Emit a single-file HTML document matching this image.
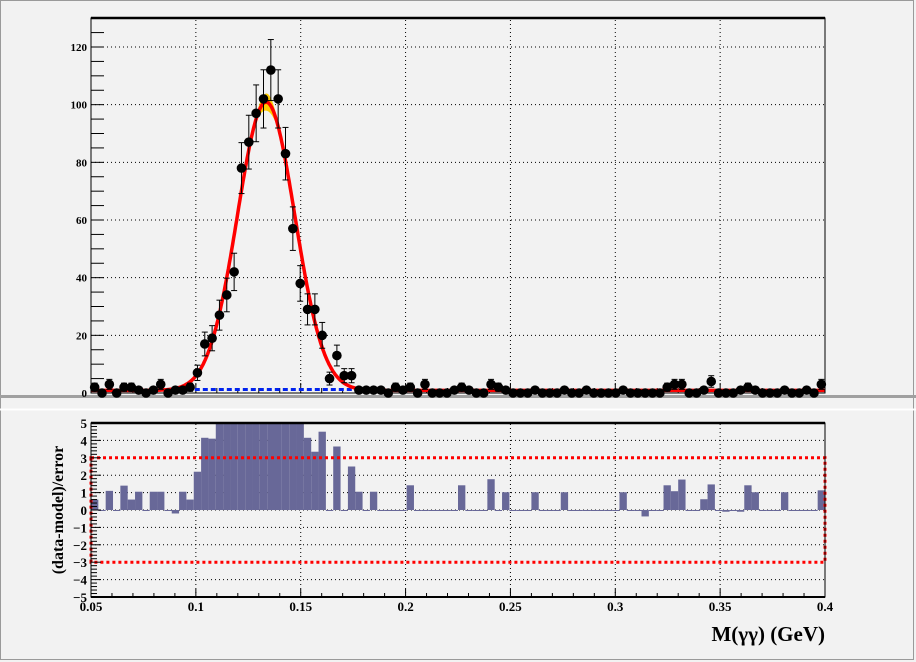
<!DOCTYPE html>
<html><head><meta charset="utf-8">
<style>
html,body{margin:0;padding:0;background:#f2f2f2;}
svg{display:block;font-family:"Liberation Serif",serif;font-weight:bold;}
</style></head>
<body>
<svg id="c" width="916" height="662" viewBox="0 0 916 662">
<rect x="0" y="0" width="916" height="662" fill="#f2f2f2"/>
<rect x="0.5" y="0.5" width="913" height="659" fill="none" stroke="#9a9a9a"/>
<rect x="0" y="395" width="916" height="3" fill="#a0a0a0"/>
<line x1="0" y1="409.5" x2="916" y2="409.5" stroke="#ffffff" stroke-width="2"/>
<g id="topPanel"></g>
<g id="botPanel"></g>
<text x="825" y="641" text-anchor="end" style="font-size:21px">M(γγ) (GeV)</text>
<text transform="translate(63,510) rotate(-90)" text-anchor="middle" style="font-size:16px">(data-model)/error</text>
</svg>
<script>
const counts=[2,0,3,0,2,2,1,0,1,3,0,1,1,2,7,17,19,27,34,42,78,87,97,102,112,102,83,57,38,29,29,20,5,13,6,6,1,1,1,1,0,2,1,2,0,3,0,0,0,1,2,1,0,0,3,2,1,0,0,0,1,0,0,0,1,0,0,1,0,0,0,0,1,0,0,0,0,0,2,3,3,0,0,1,4,0,0,0,1,2,1,0,0,0,1,0,0,1,0,3];
const pulls=[0.6,0,1.1,0,1.4,0.6,1.05,0,1.05,1.05,0,-0.2,1.05,0.6,2.2,4.15,4.1,6,7,8,9,8,7,7,8,6,6,6,7,4.15,3.35,4.5,0,3.65,0,2.5,1.05,0,1.05,0,0,0,0,1.42,0,0,0,0,0,0,1.42,0,0,0,1.77,0,1.02,0,0,0,1.02,0,0,0,1.02,0,0,0,0,0,0,0,1.02,0,0,-0.37,0,0,1.42,1.08,1.75,0,0,0.62,1.47,0,-0.1,0,-0.1,1.42,1.02,0,0,0,1.02,0,0,0,0,1.13];
const fitParams=[100,0.1335,0.0137,0.9];
const xTicks=[0.05,0.1,0.15,0.2,0.25,0.3,0.35,0.4];
const xTickLabels=["0.05","0.1","0.15","0.2","0.25","0.3","0.35","0.4"];
const yTicksTop=[0,20,40,60,80,100,120];
const yTicksBot=[-5,-4,-3,-2,-1,0,1,2,3,4,5];
const xMin=0.05,xMax=0.4,nBins=100;
const L=91,R=825;
const X=v=>L+(v-xMin)/(xMax-xMin)*(R-L);
const T0=393,T1=18,YT=v=>T0-v*(346/120);
const B0=597,B1=423,YB=v=>B0-(v+5)/10*(B0-B1);
const NS='http://www.w3.org/2000/svg';
function mk(p,tag,a){const e=document.createElementNS(NS,tag);for(const k in a)e.setAttribute(k,a[k]);p.appendChild(e);return e;}
function model(x){const [A,m,s,b]=fitParams;return A*Math.exp(-0.5*((x-m)/s)**2)+b;}
const tp=document.getElementById('topPanel'),bp=document.getElementById('botPanel');
function grid(g,y0,y1,yv,Y){
 xTicks.slice(1,-1).forEach(v=>{const l=mk(g,'line',{x1:X(v),x2:X(v),y1:y0,y2:y1,stroke:'#000','stroke-width':1,'stroke-dasharray':'1,3'});
 
 });
 yv.forEach(v=>{const y=Y(v);if(Math.abs(y-y0)<2||Math.abs(y-y1)<2)return;const l=mk(g,'line',{x1:L,x2:R,y1:y,y2:y,stroke:'#000','stroke-width':1,'stroke-dasharray':'1,3'});
 
 });
}
grid(tp,T0,T1,yTicksTop,YT);
grid(bp,B0,B1,yTicksBot.filter(v=>v!==3&&v!==-3),YB);
for(let v=0;v<=130;v+=5){const y=YT(v);if(y<T1)break;mk(tp,'line',{x1:L,x2:L+13,y1:y,y2:y,stroke:'#000'});}
yTicksTop.forEach(v=>{const t=mk(tp,'text',{x:87,y:YT(v)+4,'text-anchor':'end',style:'font-size:11px'});t.textContent=v;
 
 });
for(let k=0;k<=35;k++){const v=0.05+k*0.01;mk(tp,'line',{x1:X(v),x2:X(v),y1:T0,y2:T0-((k%5===0)?10:5),stroke:'#000'});}
const bg=mk(tp,'line',{x1:X(0.0995),x2:X(0.1765),y1:YT(1.2),y2:YT(1.2),stroke:'#0022ee','stroke-width':3,'stroke-dasharray':'5,3'});


let up=[],dn=[];
for(let x=0.123;x<=0.145;x+=0.0005){const d=3*Math.exp(-0.5*((x-0.134)/0.004)**2);up.push(X(x)+','+YT(model(x)+d));dn.unshift(X(x)+','+YT(model(x)-d));}
const band=mk(tp,'polygon',{points:up.concat(dn).join(' '),fill:'#ffcc00'});


let pts=[];for(let i=0;i<=700;i++){const x=xMin+(xMax-xMin)*i/700;pts.push(X(x).toFixed(1)+','+YT(model(x)).toFixed(1));}
const cur=mk(tp,'polyline',{points:pts.join(' '),fill:'none',stroke:'#ff0000','stroke-width':3.5});


const bw=(xMax-xMin)/nBins;
counts.forEach((c,i)=>{const xc=X(xMin+(i+0.5)*bw),y=YT(c);
 const g=mk(tp,'g',{});
 
 
 if(c>0){const e=Math.sqrt(c);const y1=YT(c+e),y2=YT(Math.max(c-e,0));
  mk(g,'line',{x1:xc,x2:xc,y1:y1,y2:y2,stroke:'#000'});
  mk(g,'line',{x1:xc-3,x2:xc+3,y1:y1,y2:y1,stroke:'#000'});
  mk(g,'line',{x1:xc-3,x2:xc+3,y1:y2,y2:y2,stroke:'#000'});}
 mk(g,'circle',{cx:xc,cy:y,r:4.8,fill:'#000'});
});
mk(tp,'rect',{x:L,y:T1,width:R-L,height:T0-T1,fill:'none',stroke:'#000','stroke-width':1});
mk(tp,'line',{x1:L,x2:R,y1:T1,y2:T1,stroke:'#000','stroke-width':2.5});
pulls.forEach((p,i)=>{const x0=X(xMin+i*bw),x1=X(xMin+(i+1)*bw);const v=Math.max(-5,Math.min(5,p));
 const y0=YB(0),y1=YB(v);
 const r=mk(bp,'rect',{x:x0,y:Math.min(y0,y1),width:x1-x0,height:Math.max(1,Math.abs(y1-y0)),fill:'#686898'});
 
 });
const box=mk(bp,'rect',{x:L,y:YB(3),width:R-L,height:YB(-3)-YB(3),fill:'none',stroke:'#ff0000','stroke-width':3,'stroke-dasharray':'3,3'});


for(let k=0;k<=50;k++){const y=YB(-5+k*0.2);const maj=k%5===0;mk(bp,'line',{x1:L,x2:L+(maj?10:6),y1:y,y2:y,stroke:'#000'});}
yTicksBot.forEach(v=>{const t=mk(bp,'text',{x:87,y:YB(v)+5,'text-anchor':'end',style:'font-size:13px'});t.textContent=v<0?'−'+(-v):String(v);
 
 });
for(let k=0;k<=35;k++){const v=0.05+k*0.01;mk(bp,'line',{x1:X(v),x2:X(v),y1:B0,y2:B0-((k%5===0)?8:4),stroke:'#000'});}
xTicks.forEach((v,i)=>{const t=mk(bp,'text',{x:X(v),y:611,'text-anchor':'middle',style:'font-size:13px'});t.textContent=xTickLabels[i];
 
 });
mk(bp,'rect',{x:L,y:B1,width:R-L,height:B0-B1,fill:'none',stroke:'#000','stroke-width':1});
mk(bp,'line',{x1:L,x2:R,y1:B1,y2:B1,stroke:'#000','stroke-width':2.5});
mk(bp,'line',{x1:L,x2:R,y1:B0,y2:B0,stroke:'#000','stroke-width':2});
</script>
</body></html>
